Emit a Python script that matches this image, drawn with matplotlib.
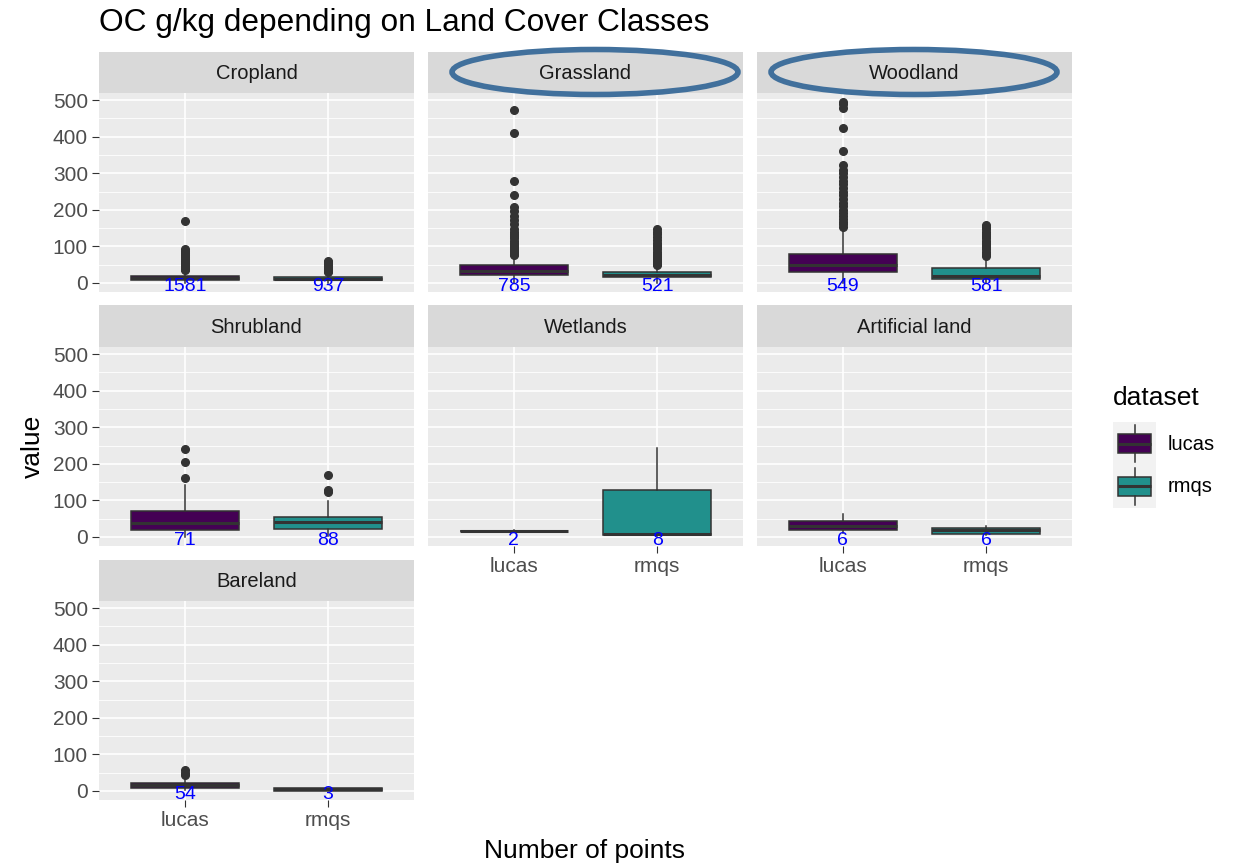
import matplotlib

matplotlib.use("Agg")
import matplotlib.pyplot as plt
from matplotlib.patches import Ellipse

plt.rcParams["font.family"] = ["Liberation Sans", "DejaVu Sans"]

# data (box statistics per land cover class)
categories = ["Cropland", "Grassland", "Woodland", "Shrubland",
              "Wetlands", "Artificial land", "Bareland"]
datasets = ["lucas", "rmqs"]
dataset_colors = ["#440154", "#21908C"]

counts_lucas = [1581, 785, 549, 71, 2, 6, 54]
counts_rmqs = [937, 521, 581, 88, 8, 6, 3]

lucas_q1 = [8, 22, 30, 18, 15, 18, 8]
lucas_med = [13, 32, 50, 37, 16, 30, 15]
lucas_q3 = [19, 48, 78, 70, 17, 43, 23]
lucas_lo = [0, 1, 0, 1, 14, 12, 2]
lucas_hi = [34, 74, 148, 142, 18, 64, 38]
lucas_fliers = [
    [36, 39, 42, 46, 50, 55, 60, 65, 70, 76, 82, 88, 92, 169],
    [76, 80, 84, 88, 92, 96, 100, 105, 110, 116, 122, 128, 134, 140, 148,
     160, 172, 184, 198, 207, 242, 279, 410, 472],
    [152, 160, 168, 176, 184, 192, 200, 210, 220, 230, 240, 250, 260, 270,
     280, 290, 300, 310, 323, 360, 424, 480, 489, 494],
    [162, 206, 240],
    [],
    [],
    [44, 50, 57],
]

rmqs_q1 = [8, 15, 12, 22, 5, 9, 1]
rmqs_med = [12, 22, 20, 40, 9, 18, 5]
rmqs_q3 = [16, 30, 42, 55, 128, 25, 8]
rmqs_lo = [0, 1, 0, 3, 2, 6, 1]
rmqs_hi = [27, 46, 69, 98, 243, 30, 8]
rmqs_fliers = [
    [29, 32, 35, 39, 43, 47, 51, 55, 58, 60],
    [48, 52, 56, 60, 65, 70, 75, 80, 86, 92, 98, 104, 110, 118, 126, 134,
     140, 148],
    [74, 80, 86, 92, 98, 104, 110, 116, 122, 128, 134, 140, 147, 153, 159],
    [124, 128, 170],
    [],
    [],
    [],
]

y_ticks = [0, 100, 200, 300, 400, 500]
y_minor = [50, 150, 250, 350, 450]

W, H = 1234, 866
fig = plt.figure(figsize=(W / 100, H / 100), dpi=100)


def px_axes(x0, y0, x1, y1):
    return fig.add_axes([x0 / W, 1 - y1 / H, (x1 - x0) / W, (y1 - y0) / H])


col_x = [(99, 414), (428, 743), (757, 1072)]
row_y = [(52, 93, 292), (305, 347, 546), (560, 601, 800)]
dark = "#333333"
bottom_panels = {4, 5, 6}

for i, cat in enumerate(categories):
    row, col = divmod(i, 3)
    x0, x1 = col_x[col]
    s_top, p_top, p_bot = row_y[row]

    strip = px_axes(x0, s_top, x1, p_top)
    strip.set_facecolor("#D9D9D9")
    strip.set_xticks([])
    strip.set_yticks([])
    for sp in strip.spines.values():
        sp.set_visible(False)
    strip.text(0.5, 0.47, cat, ha="center", va="center", fontsize=14.5,
               color="#1A1A1A", transform=strip.transAxes)

    ax = px_axes(x0, p_top, x1, p_bot)
    ax.set_facecolor("#EBEBEB")
    ax.set_axisbelow(True)
    for sp in ax.spines.values():
        sp.set_visible(False)

    stats = [
        dict(med=lucas_med[i], q1=lucas_q1[i], q3=lucas_q3[i],
             whislo=lucas_lo[i], whishi=lucas_hi[i], fliers=lucas_fliers[i]),
        dict(med=rmqs_med[i], q1=rmqs_q1[i], q3=rmqs_q3[i],
             whislo=rmqs_lo[i], whishi=rmqs_hi[i], fliers=rmqs_fliers[i]),
    ]
    bp = ax.bxp(stats, positions=[1, 2], widths=0.75, patch_artist=True,
                showcaps=False,
                boxprops=dict(edgecolor=dark, linewidth=1.1),
                medianprops=dict(color=dark, linewidth=2.2),
                whiskerprops=dict(color=dark, linewidth=1.1),
                flierprops=dict(marker="o", markerfacecolor=dark,
                                markeredgecolor=dark, markersize=5.5))
    for patch, c in zip(bp["boxes"], dataset_colors):
        patch.set_facecolor(c)

    for pos, n in zip([1, 2], [counts_lucas[i], counts_rmqs[i]]):
        ax.text(pos, -9, str(n), color="blue", ha="center", va="center",
                fontsize=14, clip_on=True)

    ax.set_xlim(0.4, 2.6)
    ax.set_ylim(-24.75, 519.75)
    ax.set_xticks([1, 2])
    ax.set_xticklabels(datasets)
    ax.set_yticks(y_ticks)
    ax.set_yticks(y_minor, minor=True)
    ax.grid(which="major", color="white", linewidth=1.2)
    ax.grid(which="minor", color="white", linewidth=0.6)
    ax.tick_params(which="minor", length=0)
    ax.tick_params(axis="y", length=5 if col == 0 else 0, width=0.8,
                   color=dark, labelleft=(col == 0), labelsize=15,
                   labelcolor="#4D4D4D", pad=3)
    ax.tick_params(axis="x", length=5 if i in bottom_panels else 0,
                   width=0.8, color=dark, labelbottom=(i in bottom_panels),
                   labelsize=15, labelcolor="#4D4D4D", pad=3)

fig.text(99 / W, 1 - 31 / H, "OC g/kg depending on Land Cover Classes",
         fontsize=22.75, ha="left", va="baseline")
fig.text(585 / W, 1 - 851 / H, "Number of points", fontsize=19,
         ha="center", va="center")
fig.text(33 / W, 1 - 446 / H, "value", fontsize=19, rotation=90,
         ha="center", va="center")

# legend
fig.text(1113 / W, 1 - 398 / H, "dataset", fontsize=19, ha="left",
         va="center")
for k, (name, c) in enumerate(zip(datasets, dataset_colors)):
    top = 422 + k * 43
    key = px_axes(1113, top, 1156, top + 43)
    key.set_facecolor("#F2F2F2")
    for sp in key.spines.values():
        sp.set_visible(False)
    kb = key.bxp([dict(med=0.5, q1=0.27, q3=0.73, whislo=0.08, whishi=0.92,
                       fliers=[])], positions=[0.5], widths=0.78,
                 patch_artist=True, showcaps=False,
                 boxprops=dict(edgecolor=dark, linewidth=1.1),
                 medianprops=dict(color=dark, linewidth=2.2),
                 whiskerprops=dict(color=dark, linewidth=1.1))
    kb["boxes"][0].set_facecolor(c)
    key.set_xlim(0, 1)
    key.set_ylim(0, 1)
    key.set_xticks([])
    key.set_yticks([])
    fig.text(1168 / W, 1 - (top + 22) / H, name, fontsize=14.5, ha="left",
             va="center")

# highlight rings drawn around two of the strips
for cx in (595, 914):
    fig.add_artist(Ellipse((cx / W, 1 - 72 / H), 286 / W, 45 / H,
                           transform=fig.transFigure, fill=False,
                           edgecolor="#41709C", linewidth=4))

fig.savefig("out.png", dpi=100)
